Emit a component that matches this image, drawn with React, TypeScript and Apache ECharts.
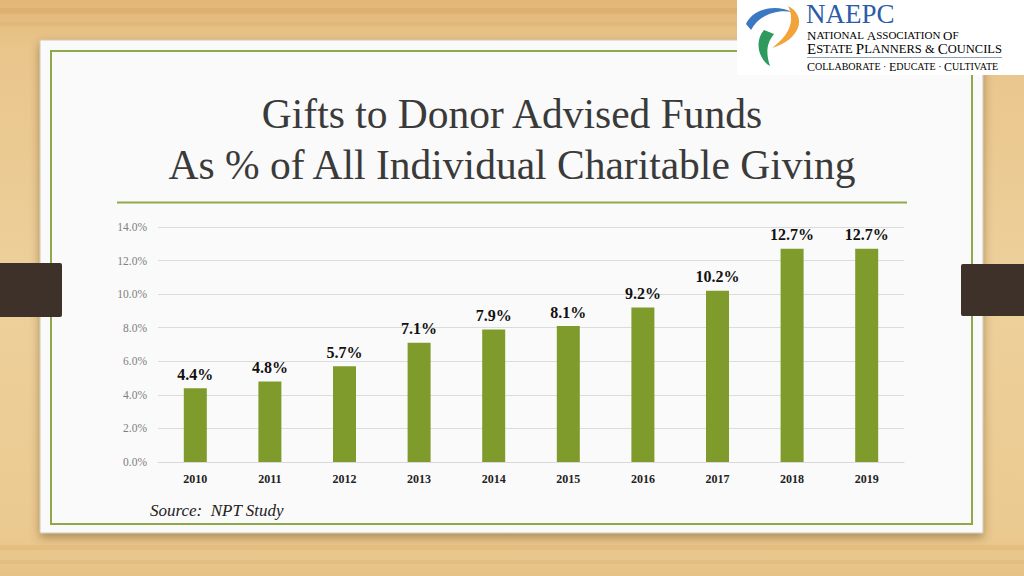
import React, { useEffect, useRef } from "react";
import * as echarts from "echarts";

const years = ["2010", "2011", "2012", "2013", "2014", "2015", "2016", "2017", "2018", "2019"];
const shares = [4.4, 4.8, 5.7, 7.1, 7.9, 8.1, 9.2, 10.2, 12.7, 12.7];
const yMin = 0;
const yMax = 14;
const yStep = 2;
const titleLines = ["Gifts to Donor Advised Funds", "As % of All Individual Charitable Giving"];
const sourceText = "Source:  NPT Study";

const SERIF = "'Liberation Serif', 'DejaVu Serif', serif";

let shapesRegistered = false;
function registerShapes() {
  if (shapesRegistered) return;
  shapesRegistered = true;
  echarts.graphic.registerShape(
    "swBlue",
    echarts.graphic.extendPath("M0 18 C6 4 28 -3 46 6 C32 3 14 8 5 24 Z", {})
  );
  echarts.graphic.registerShape(
    "swOrange",
    echarts.graphic.extendPath("M42 0 C62 10 54 34 26 42 C42 30 50 16 42 0 Z", {})
  );
  echarts.graphic.registerShape(
    "swGreen",
    echarts.graphic.extendPath("M18 24 C9 34 11 52 24 60 C20 48 20 38 28 28 Z", {})
  );
}

export default function App() {
  const ref = useRef<HTMLDivElement>(null);

  useEffect(() => {
    if (!ref.current) return;
    registerShapes();
    const chart = echarts.init(ref.current, null, { renderer: "svg", width: 1024, height: 576 });

    const smallCaps = (s: string) =>
      s
        .split(" ")
        .map((w) => {
          if (w === "&" || w === "·") return `{s|${w}}`;
          return `{b|${w[0].toUpperCase()}}{s|${w.slice(1).toUpperCase()}}`;
        })
        .join("{s| }");

    const green = "#2a8a5c";

    chart.setOption({
      animation: false,
      backgroundColor: {
        type: "linear",
        x: 0,
        y: 0,
        x2: 0,
        y2: 1,
        colorStops: [
          { offset: 0, color: "#e2b676" },
          { offset: 0.08, color: "#e9c58b" },
          { offset: 0.5, color: "#edd09b" },
          { offset: 0.92, color: "#ebca90" },
          { offset: 1, color: "#e6c286" },
        ],
      },
      graphic: [
        { type: "rect", z: -10, shape: { x: 0, y: 8, width: 1024, height: 6 }, style: { fill: "rgba(200,140,70,0.18)" } },
        { type: "rect", z: -10, shape: { x: 0, y: 22, width: 1024, height: 4 }, style: { fill: "rgba(200,140,70,0.12)" } },
        { type: "rect", z: -10, shape: { x: 0, y: 545, width: 1024, height: 5 }, style: { fill: "rgba(200,140,70,0.15)" } },
        { type: "rect", z: -10, shape: { x: 0, y: 560, width: 1024, height: 4 }, style: { fill: "rgba(200,140,70,0.12)" } },
        {
          type: "rect",
          z: -5,
          shape: { x: 40, y: 40, width: 943, height: 493 },
          style: {
            fill: "#fafafa",
            stroke: "#cfc6b4",
            lineWidth: 1,
            shadowBlur: 10,
            shadowOffsetY: 4,
            shadowColor: "rgba(90,60,20,0.45)",
          },
        },
        {
          type: "rect",
          z: -4,
          shape: { x: 51, y: 51, width: 921, height: 473 },
          style: { fill: "none", stroke: "#8fa94a", lineWidth: 2 },
        },
        { type: "rect", z: -3, shape: { x: 0, y: 263, width: 62, height: 54, r: [0, 2, 2, 0] }, style: { fill: "#3d3129" } },
        { type: "rect", z: -3, shape: { x: 961, y: 264, width: 63, height: 52, r: [2, 0, 0, 2] }, style: { fill: "#3d3129" } },
        {
          type: "text",
          z: 1,
          x: 512,
          y: 114,
          style: { text: titleLines[0], fill: "#3a3a3a", font: `41.5px ${SERIF}`, align: "center", verticalAlign: "middle" },
        },
        {
          type: "text",
          z: 1,
          x: 512,
          y: 165,
          style: { text: titleLines[1], fill: "#3a3a3a", font: `41.5px ${SERIF}`, align: "center", verticalAlign: "middle" },
        },
        {
          type: "line",
          z: 1,
          shape: { x1: 117, y1: 202.5, x2: 907, y2: 202.5 },
          style: { stroke: "#8fa94a", lineWidth: 2 },
        },
        {
          type: "text",
          z: 1,
          x: 150,
          y: 510,
          style: { text: sourceText, fill: "#222", font: `italic 17px ${SERIF}`, align: "left", verticalAlign: "middle" },
        },
        { type: "rect", z: 5, shape: { x: 737, y: 0, width: 287, height: 75 }, style: { fill: "#ffffff" } },
        { type: "swBlue", z: 6, x: 746, y: 6, style: { fill: "#3b78c2" } },
        { type: "swOrange", z: 6, x: 746, y: 6, style: { fill: "#f2a43a" } },
        { type: "swGreen", z: 6, x: 746, y: 6, style: { fill: "#2f9a5e" } },
        {
          type: "text",
          z: 6,
          x: 806,
          y: 14,
          style: {
            text: "NAEPC",
            fill: "#2b5ca8",
            fontFamily: SERIF,
            fontSize: 27,
            lineHeight: 27,
            align: "left",
            verticalAlign: "middle",
          },
        },
        {
          type: "text",
          z: 6,
          x: 807,
          y: 35,
          style: {
            text: smallCaps("National Association of"),
            align: "left",
            verticalAlign: "middle",
            rich: {
              b: { fontFamily: SERIF, fontSize: 13, lineHeight: 13, color: green },
              s: { fontFamily: SERIF, fontSize: 11, lineHeight: 13, color: green },
            },
          },
        },
        {
          type: "text",
          z: 6,
          x: 807,
          y: 49,
          style: {
            text: smallCaps("Estate Planners & Councils"),
            align: "left",
            verticalAlign: "middle",
            rich: {
              b: { fontFamily: SERIF, fontSize: 15, lineHeight: 13, color: green },
              s: { fontFamily: SERIF, fontSize: 12.5, lineHeight: 13, color: green },
            },
          },
        },
        {
          type: "line",
          z: 6,
          shape: { x1: 807, y1: 57.5, x2: 1002, y2: 57.5 },
          style: { stroke: "#8da3b3", lineWidth: 1.2 },
        },
        {
          type: "text",
          z: 6,
          x: 807,
          y: 66.5,
          style: {
            text: smallCaps("Collaborate · Educate · Cultivate"),
            align: "left",
            verticalAlign: "middle",
            rich: {
              b: { fontFamily: SERIF, fontSize: 12, lineHeight: 10, color: "#777" },
              s: { fontFamily: SERIF, fontSize: 10, lineHeight: 10, color: "#777" },
            },
          },
        },
      ],
      grid: { left: 158, right: 120, top: 227, bottom: 114, containLabel: false },
      xAxis: {
        type: "category",
        data: years,
        axisLine: { show: true, lineStyle: { color: "#d9d9d9" } },
        axisTick: { show: false },
        axisLabel: {
          color: "#222",
          fontFamily: SERIF,
          fontWeight: "bold",
          fontSize: 12,
          margin: 11,
        },
      },
      yAxis: {
        type: "value",
        min: yMin,
        max: yMax,
        interval: yStep,
        axisLine: { show: false },
        axisTick: { show: false },
        splitLine: { lineStyle: { color: "#dcdcdc" } },
        axisLabel: {
          color: "#808080",
          fontFamily: SERIF,
          fontSize: 11.5,
          margin: 11,
          formatter: (v: number) => v.toFixed(1) + "%",
        },
      },
      series: [
        {
          type: "bar",
          data: shares,
          barWidth: 23,
          itemStyle: { color: "#7f9b2c" },
          label: {
            show: true,
            position: "top",
            distance: 6,
            color: "#111",
            fontFamily: SERIF,
            fontWeight: "bold",
            fontSize: 16,
            formatter: (p: any) => Number(p.value).toFixed(1) + "%",
          },
        },
      ],
    });

    return () => chart.dispose();
  }, []);

  return <div ref={ref} style={{ position: "fixed", left: 0, top: 0, width: 1024, height: 576 }} />;
}
